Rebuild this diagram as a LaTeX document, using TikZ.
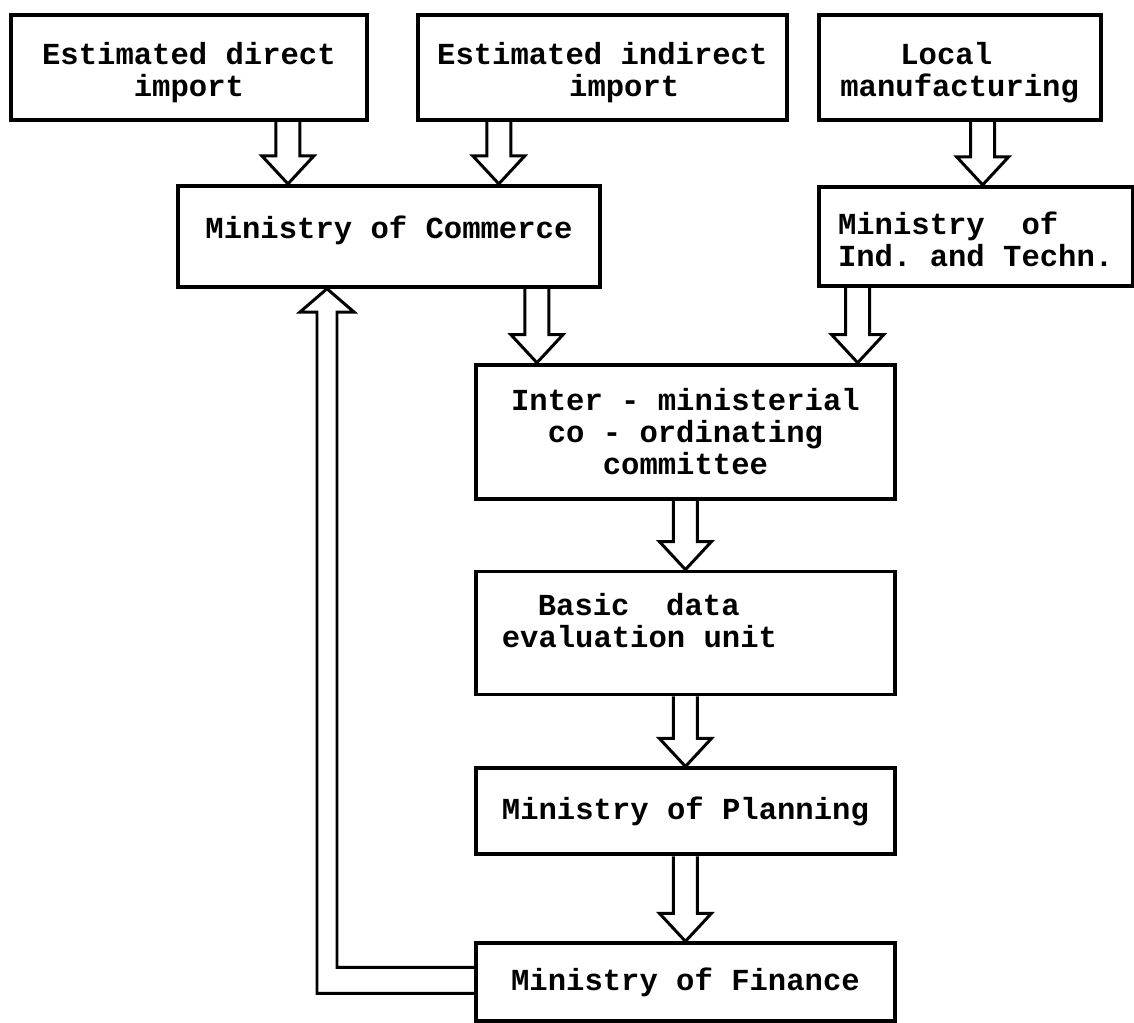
\documentclass[tikz,border=0pt]{standalone}
\usepackage{fontspec}
\setmonofont{Liberation Mono}
\usetikzlibrary{positioning,calc}

\begin{document}
\begin{tikzpicture}[every node/.style={font=\ttfamily\bfseries\fontsize{17.4}{18.2}\selectfont,align=center},
  box/.style={draw,line width=2.2pt,inner sep=0pt,minimum height=2.1cm},
  fat/.style={line width=1.7pt,to path={let \p1=(\tikztostart),\p2=(\tikztotarget) in
    (\x1-0.24cm,\y1) -- (\x1-0.24cm,\y2+0.56cm) -- (\x1-0.52cm,\y2+0.56cm) -- (\x1,\y2)
    -- (\x1+0.52cm,\y2+0.56cm) -- (\x1+0.24cm,\y2+0.56cm) -- (\x1+0.24cm,\y1)}}]
\useasboundingbox (0,0) rectangle (22.68,-20.46);
% sources
\node[box,minimum width=7.12cm,anchor=north west] (direct) at (0.18,-0.26) {\rule{0pt}{19pt}Estimated direct\\import};
\node[box,minimum width=7.38cm,align=left,right=0.94cm of direct] (indirect) {\rule{0pt}{19pt}Estimated indirect\\\hspace*{2.64cm}import};
\node[box,minimum width=5.64cm,align=left,right=0.56cm of indirect] (local) {\rule{0pt}{18pt}\hspace*{1.2cm}Local\\manufacturing};
% ministries
\node[box,minimum width=8.44cm,minimum height=2.02cm,text depth=10.4pt,below right=1.24cm and 3.34cm of direct.south west] (commerce) {Ministry of Commerce};
\node[box,minimum width=6.28cm,minimum height=1.98cm,align=left,below right=1.26cm and 0cm of local.south west] (ind) {\rule{0pt}{16.8pt}Ministry~~of\\Ind. and Techn.};
% main column
\node[box,minimum width=8.38cm,minimum height=2.68cm,below right=1.48cm and 5.96cm of commerce.south west] (inter) {Inter - ministerial\\co - ordinating\\committee};
\node[box,minimum width=8.38cm,minimum height=2.46cm,align=left,text depth=14.7pt,below=1.38cm of inter] (basic) {\hspace*{0.72cm}Basic~~data\\evaluation unit\hspace*{1.84cm}};
\node[box,minimum width=8.38cm,minimum height=1.72cm,below=1.40cm of basic] (planning) {Ministry of Planning};
\node[box,minimum width=8.38cm,minimum height=1.56cm,below=1.70cm of planning] (finance) {Ministry of Finance};

\draw[fat] ([xshift=1.98cm]direct.south) to (commerce.north);
\draw[fat] ([xshift=-2.07cm]indirect.south) to (commerce.north);
\draw[fat] ([xshift=0.46cm]local.south) to (ind.north);
\draw[fat] ([xshift=2.96cm]commerce.south) to (inter.north);
\draw[fat] ([xshift=-2.36cm]ind.south) to (inter.north);
\draw[fat] (inter.south) to (basic.north);
\draw[fat] (basic.south) to (planning.north);
\draw[fat] (planning.south) to (finance.north);
% feedback to commerce
\coordinate (fbtip) at (6.54,0 |- commerce.south);
\draw[line width=1.7pt] ([yshift=0.30cm]finance.west) -| (6.74,-6.24) -- (7.08,-6.24) -- (fbtip)
  -- (6.00,-6.24) -- (6.34,-6.24) |- ([yshift=-0.22cm]finance.west);
\end{tikzpicture}
\end{document}
